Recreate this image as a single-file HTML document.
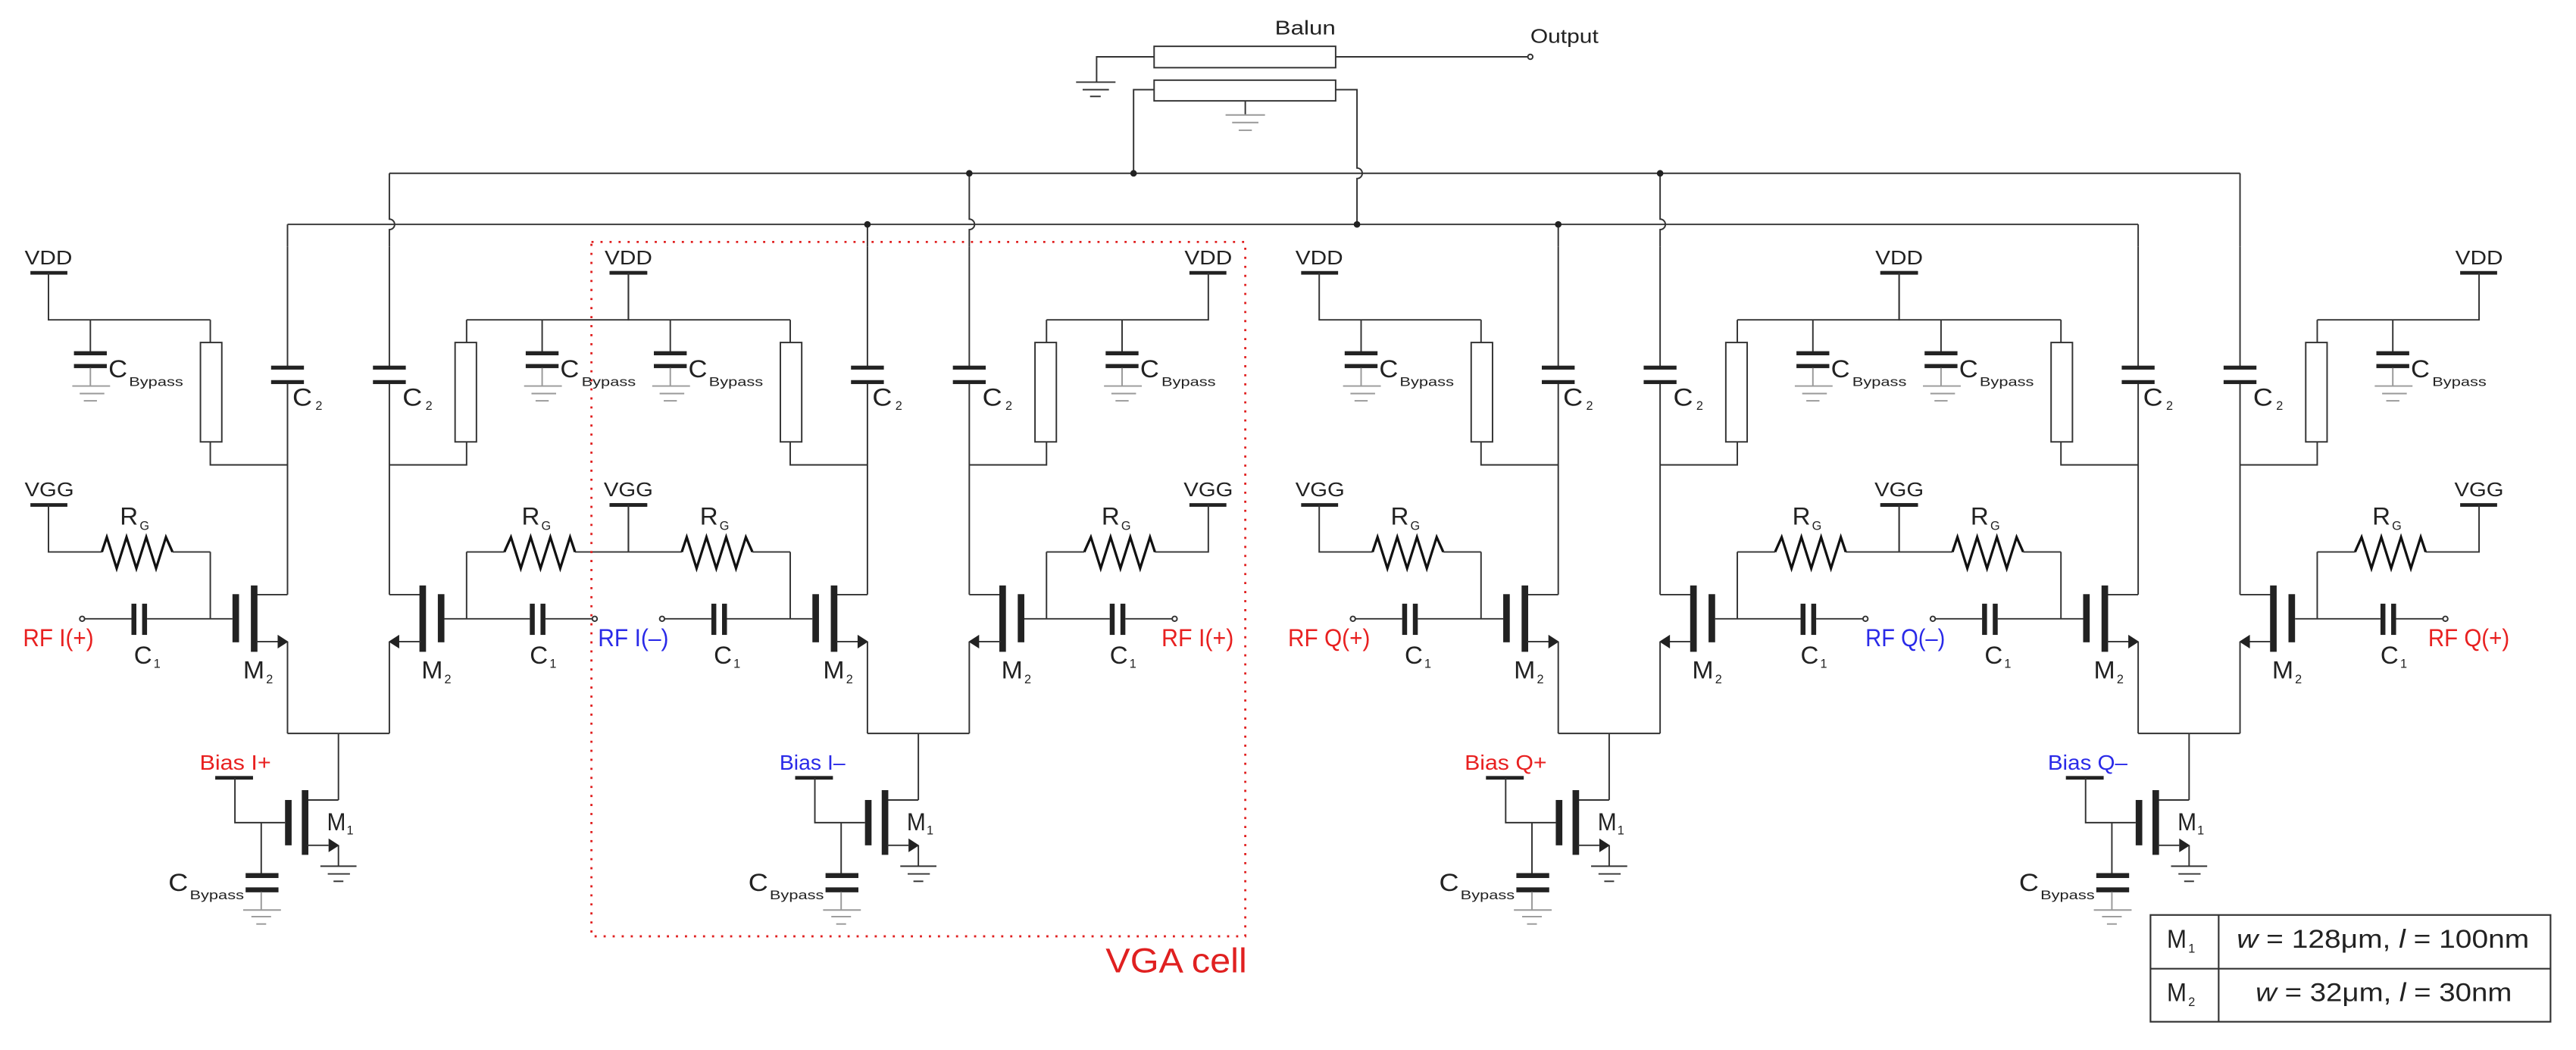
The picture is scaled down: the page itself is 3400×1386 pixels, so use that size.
<!DOCTYPE html>
<html><head><meta charset="utf-8">
<style>
html,body{margin:0;padding:0;background:#fff;}
svg{display:block;}
text{font-family:"Liberation Sans",sans-serif;fill:#222;}
</style></head>
<body>
<svg width="3400" height="1386" viewBox="0 0 1568 639.2" xmlns="http://www.w3.org/2000/svg">
<defs>
<g id="half" fill="none" stroke="#333" stroke-width="0.9">
  <!-- VDD -->
  <rect x="18.5" y="165" width="22.5" height="2.2" fill="#222" stroke="none"/>
  <polyline points="29.5,166 29.5,194.7 128,194.7"/>
  <!-- load resistor -->
  <line x1="128" y1="194.7" x2="128" y2="208.5"/>
  <rect x="122" y="208.5" width="13" height="60.5" fill="#fff"/>
  <polyline points="128,269 128,283 175,283"/>
  <!-- C2 -->
  <line x1="175" y1="150" x2="175" y2="223"/>
  <line x1="175" y1="233" x2="175" y2="362"/>
  <rect x="165" y="222.6" width="20" height="2.4" fill="#222" stroke="none"/>
  <rect x="165" y="231.4" width="20" height="2.4" fill="#222" stroke="none"/>
  <!-- M2 -->
  <line x1="156" y1="362" x2="175" y2="362"/>
  <rect x="141.5" y="361.7" width="4" height="29.3" fill="#222" stroke="none"/>
  <rect x="152.7" y="356.4" width="4" height="40.4" fill="#222" stroke="none"/>
  <line x1="156" y1="390.6" x2="170" y2="390.6"/>
  <polygon points="175.5,390.6 169,386.4 169,394.8" fill="#222" stroke="none"/>
  <line x1="175" y1="390.6" x2="175" y2="446.5"/>
  <line x1="175" y1="446.5" x2="206" y2="446.5"/>
  <!-- gate input -->
  <line x1="51.5" y1="376.7" x2="80" y2="376.7"/>
  <line x1="89.5" y1="376.7" x2="141.5" y2="376.7"/>
  <rect x="80" y="367.5" width="3" height="19" fill="#222" stroke="none"/>
  <rect x="86.5" y="367.5" width="3" height="19" fill="#222" stroke="none"/>
  <circle cx="50" cy="376.7" r="1.5" fill="#fff"/>
  <line x1="128" y1="336" x2="128" y2="376.7"/>
  <!-- VGG + RG -->
  <rect x="18.5" y="306.3" width="22.5" height="2.2" fill="#222" stroke="none"/>
  <polyline points="29.5,307.4 29.5,336 62,336"/>
  <polyline points="62,336 65,327 71,346 77,327 83,346 89,327 95,346 101,327 105,336" stroke="#111" stroke-width="1.5" stroke-linejoin="miter"/>
  <line x1="105" y1="336" x2="128" y2="336"/>
</g>
<g id="cb" fill="none" stroke="#333" stroke-width="0.9">
  <line x1="0" y1="194.7" x2="0" y2="214"/>
  <rect x="-10" y="213.8" width="20" height="2.5" fill="#222" stroke="none"/>
  <rect x="-10" y="221.6" width="20" height="2.5" fill="#222" stroke="none"/>
  <g stroke="#999">
  <line x1="0" y1="224" x2="0" y2="235"/>
  <line x1="-11" y1="235" x2="12" y2="235"/>
  <line x1="-6.5" y1="239.6" x2="8.5" y2="239.6"/>
  <line x1="-4" y1="244" x2="4" y2="244"/>
  </g>
</g>
<g id="cell" fill="none" stroke="#333" stroke-width="0.9">
  <use href="#half"/>
  <use href="#half" transform="translate(412,0) scale(-1,1)"/>
  <use href="#cb" transform="translate(55,0)"/>
  <use href="#cb" transform="translate(330,0)"/>
  <!-- tail -->
  <line x1="206" y1="446.5" x2="206" y2="487"/>
  <line x1="187" y1="487" x2="206" y2="487"/>
  <rect x="173.5" y="487" width="4" height="27.6" fill="#222" stroke="none"/>
  <rect x="183.7" y="481" width="4" height="39.4" fill="#222" stroke="none"/>
  <line x1="187" y1="514.6" x2="200" y2="514.6"/>
  <polygon points="206.5,514.6 200,510.4 200,518.8" fill="#222" stroke="none"/>
  <line x1="206" y1="514.6" x2="206" y2="527.3"/>
  <line x1="195" y1="527.3" x2="217" y2="527.3"/>
  <line x1="199.5" y1="532" x2="213" y2="532"/>
  <line x1="203" y1="536.5" x2="209" y2="536.5"/>
  <!-- bias -->
  <rect x="131" y="472.4" width="23" height="2.2" fill="#222" stroke="none"/>
  <polyline points="143,473.5 143,500.8 173.5,500.8"/>
  <line x1="159" y1="500.8" x2="159" y2="532"/>
  <rect x="149.5" y="531.5" width="20" height="3" fill="#222" stroke="none"/>
  <rect x="149.5" y="540.2" width="20" height="3" fill="#222" stroke="none"/>
  <g stroke="#999">
  <line x1="159" y1="543" x2="159" y2="554"/>
  <line x1="148" y1="554" x2="171" y2="554"/>
  <line x1="153" y1="558" x2="165" y2="558"/>
  <line x1="156" y1="562.5" x2="162" y2="562.5"/>
  </g>
</g>
</defs>

<!-- cells -->
<use href="#cell"/>
<use href="#cell" transform="translate(353,0)"/>
<use href="#cell" transform="translate(773.5,0)"/>
<use href="#cell" transform="translate(1126.5,0)"/>

<!-- buses -->
<g fill="none" stroke="#333" stroke-width="0.9">
  <line x1="237" y1="105.5" x2="1363.5" y2="105.5"/>
  <line x1="175" y1="136.6" x2="1301.5" y2="136.6"/>
  <line x1="175" y1="136.6" x2="175" y2="150"/>
  <line x1="528" y1="136.6" x2="528" y2="150"/>
  <line x1="948.5" y1="136.6" x2="948.5" y2="150"/>
  <line x1="1301.5" y1="136.6" x2="1301.5" y2="150"/>
  <path d="M237,105.5 V133.4 A3.2,3.2 0 0 1 237,139.8 V150"/>
  <path d="M590,105.5 V133.4 A3.2,3.2 0 0 1 590,139.8 V150"/>
  <path d="M1010.5,105.5 V133.4 A3.2,3.2 0 0 1 1010.5,139.8 V150"/>
  <line x1="1363.5" y1="105.5" x2="1363.5" y2="150"/>
  <!-- balun -->
  <rect x="702.5" y="28.2" width="110.5" height="13" fill="#fff"/>
  <rect x="702.5" y="48.8" width="110.5" height="12.6" fill="#fff"/>
  <polyline points="702.5,34.6 667.5,34.6 667.5,50"/>
  <line x1="655" y1="50" x2="679" y2="50"/>
  <line x1="659" y1="54.6" x2="675" y2="54.6"/>
  <line x1="663.5" y1="58.7" x2="670" y2="58.7"/>
  <polyline points="702.5,54.6 690,54.6 690,105.5"/>
  <line x1="758" y1="61.4" x2="758" y2="70"/>
  <g stroke="#999">
  <line x1="746" y1="70" x2="770" y2="70"/>
  <line x1="750" y1="74.6" x2="766" y2="74.6"/>
  <line x1="754" y1="79.3" x2="762" y2="79.3"/>
  </g>
  <line x1="813" y1="34.6" x2="930" y2="34.6"/>
  <circle cx="931.5" cy="34.6" r="1.5" fill="#fff"/>
  <path d="M813,54.6 H826 V102.3 A3.2,3.2 0 0 1 826,108.7 V136.6"/>
</g>
<g fill="#222">
  <circle cx="590" cy="105.5" r="2"/>
  <circle cx="690" cy="105.5" r="2"/>
  <circle cx="1010.5" cy="105.5" r="2"/>
  <circle cx="528" cy="136.6" r="2"/>
  <circle cx="826" cy="136.6" r="2"/>
  <circle cx="948.5" cy="136.6" r="2"/>
</g>

<!-- VGA cell box -->
<rect x="360" y="147.3" width="398" height="422.7" fill="none" stroke="#e02020" stroke-width="1.3" stroke-dasharray="1.3 4.2"/>
<text x="759" y="592" font-size="21" text-anchor="end" style="fill:#e02020" textLength="86" lengthAdjust="spacingAndGlyphs">VGA cell</text>

<!-- balun labels -->
<text x="776" y="21" font-size="12" textLength="37" lengthAdjust="spacingAndGlyphs">Balun</text>
<text x="931.5" y="26" font-size="12" textLength="41.5" lengthAdjust="spacingAndGlyphs">Output</text>

<!-- RF labels -->
<g font-size="15">
<text x="14" y="393.4" style="fill:#e82020" textLength="43" lengthAdjust="spacingAndGlyphs">RF I(+)</text>
<text x="364" y="393.4" style="fill:#2a2ae8" textLength="43" lengthAdjust="spacingAndGlyphs">RF I(–)</text>
<text x="707" y="393.4" style="fill:#e82020" textLength="44" lengthAdjust="spacingAndGlyphs">RF I(+)</text>
<text x="784" y="393.4" style="fill:#e82020" textLength="50" lengthAdjust="spacingAndGlyphs">RF Q(+)</text>
<text x="1135.5" y="393.4" style="fill:#2a2ae8" textLength="48.5" lengthAdjust="spacingAndGlyphs">RF Q(–)</text>
<text x="1478" y="393.4" style="fill:#e82020" textLength="49.5" lengthAdjust="spacingAndGlyphs">RF Q(+)</text>
</g>

<!-- Cell labels: I+ -->
<g transform="translate(0,0)">
<text x="15" y="161" font-size="12" textLength="29" lengthAdjust="spacingAndGlyphs">VDD</text>
<text x="15" y="302" font-size="12" textLength="30" lengthAdjust="spacingAndGlyphs">VGG</text>
<text x="368" y="161" font-size="12" textLength="29" lengthAdjust="spacingAndGlyphs">VDD</text>
<text x="367.5" y="302" font-size="12" textLength="30" lengthAdjust="spacingAndGlyphs">VGG</text>
<text x="121.5" y="468.5" font-size="13" style="fill:#e82020" textLength="43.5" lengthAdjust="spacingAndGlyphs">Bias I+</text>
</g>
<g transform="translate(353,0)">
<text x="368" y="161" font-size="12" textLength="29" lengthAdjust="spacingAndGlyphs">VDD</text>
<text x="367.5" y="302" font-size="12" textLength="30" lengthAdjust="spacingAndGlyphs">VGG</text>
<text x="121.5" y="468.5" font-size="13" style="fill:#2a2ae8" textLength="40" lengthAdjust="spacingAndGlyphs">Bias I–</text>
</g>
<g transform="translate(773.5,0)">
<text x="15" y="161" font-size="12" textLength="29" lengthAdjust="spacingAndGlyphs">VDD</text>
<text x="15" y="302" font-size="12" textLength="30" lengthAdjust="spacingAndGlyphs">VGG</text>
<text x="368" y="161" font-size="12" textLength="29" lengthAdjust="spacingAndGlyphs">VDD</text>
<text x="367.5" y="302" font-size="12" textLength="30" lengthAdjust="spacingAndGlyphs">VGG</text>
<text x="118" y="468.5" font-size="13" style="fill:#e82020" textLength="50" lengthAdjust="spacingAndGlyphs">Bias Q+</text>
</g>
<g transform="translate(1126.5,0)">
<text x="368" y="161" font-size="12" textLength="29" lengthAdjust="spacingAndGlyphs">VDD</text>
<text x="367.5" y="302" font-size="12" textLength="30" lengthAdjust="spacingAndGlyphs">VGG</text>
<text x="120" y="468.5" font-size="13" style="fill:#2a2ae8" textLength="48.5" lengthAdjust="spacingAndGlyphs">Bias Q–</text>
</g>

<!-- Common per-cell component labels -->
<g id="labI">
<g font-size="15">
<text x="66" y="229.7" textLength="11.5" lengthAdjust="spacingAndGlyphs">C</text>
<text x="341" y="229.7" textLength="11.5" lengthAdjust="spacingAndGlyphs">C</text>
<text x="178" y="247" textLength="12" lengthAdjust="spacingAndGlyphs">C</text>
<text x="245" y="247" textLength="12" lengthAdjust="spacingAndGlyphs">C</text>
<text x="73" y="319.4" textLength="11" lengthAdjust="spacingAndGlyphs">R</text>
<text x="317.5" y="319.4" textLength="11" lengthAdjust="spacingAndGlyphs">R</text>
<text x="81.5" y="404" textLength="11" lengthAdjust="spacingAndGlyphs">C</text>
<text x="322.5" y="404" textLength="11" lengthAdjust="spacingAndGlyphs">C</text>
<text x="148" y="413" textLength="13" lengthAdjust="spacingAndGlyphs">M</text>
<text x="256.5" y="413" textLength="13" lengthAdjust="spacingAndGlyphs">M</text>
<text x="199" y="505.4" textLength="11.5" lengthAdjust="spacingAndGlyphs">M</text>
<text x="102.5" y="542.4" textLength="12" lengthAdjust="spacingAndGlyphs">C</text>
</g>
<g font-size="7.5">
<text x="78.5" y="235" textLength="33" lengthAdjust="spacingAndGlyphs">Bypass</text>
<text x="354" y="235" textLength="33" lengthAdjust="spacingAndGlyphs">Bypass</text>
<text x="192" y="249.5">2</text>
<text x="259" y="249.5">2</text>
<text x="85" y="322.5">G</text>
<text x="329.5" y="322.5">G</text>
<text x="93.5" y="406.5">1</text>
<text x="334.5" y="406.5">1</text>
<text x="162" y="416">2</text>
<text x="270.5" y="416">2</text>
<text x="211" y="508">1</text>
<text x="115.5" y="547.5" textLength="33" lengthAdjust="spacingAndGlyphs">Bypass</text>
</g>
</g>
<g transform="translate(353,0)">
<g font-size="15">
<text x="66" y="229.7" textLength="11.5" lengthAdjust="spacingAndGlyphs">C</text>
<text x="341" y="229.7" textLength="11.5" lengthAdjust="spacingAndGlyphs">C</text>
<text x="178" y="247" textLength="12" lengthAdjust="spacingAndGlyphs">C</text>
<text x="245" y="247" textLength="12" lengthAdjust="spacingAndGlyphs">C</text>
<text x="73" y="319.4" textLength="11" lengthAdjust="spacingAndGlyphs">R</text>
<text x="317.5" y="319.4" textLength="11" lengthAdjust="spacingAndGlyphs">R</text>
<text x="81.5" y="404" textLength="11" lengthAdjust="spacingAndGlyphs">C</text>
<text x="322.5" y="404" textLength="11" lengthAdjust="spacingAndGlyphs">C</text>
<text x="148" y="413" textLength="13" lengthAdjust="spacingAndGlyphs">M</text>
<text x="256.5" y="413" textLength="13" lengthAdjust="spacingAndGlyphs">M</text>
<text x="199" y="505.4" textLength="11.5" lengthAdjust="spacingAndGlyphs">M</text>
<text x="102.5" y="542.4" textLength="12" lengthAdjust="spacingAndGlyphs">C</text>
</g>
<g font-size="7.5">
<text x="78.5" y="235" textLength="33" lengthAdjust="spacingAndGlyphs">Bypass</text>
<text x="354" y="235" textLength="33" lengthAdjust="spacingAndGlyphs">Bypass</text>
<text x="192" y="249.5">2</text>
<text x="259" y="249.5">2</text>
<text x="85" y="322.5">G</text>
<text x="329.5" y="322.5">G</text>
<text x="93.5" y="406.5">1</text>
<text x="334.5" y="406.5">1</text>
<text x="162" y="416">2</text>
<text x="270.5" y="416">2</text>
<text x="211" y="508">1</text>
<text x="115.5" y="547.5" textLength="33" lengthAdjust="spacingAndGlyphs">Bypass</text>
</g>
</g>
<g transform="translate(773.5,0)">
<g font-size="15">
<text x="66" y="229.7" textLength="11.5" lengthAdjust="spacingAndGlyphs">C</text>
<text x="341" y="229.7" textLength="11.5" lengthAdjust="spacingAndGlyphs">C</text>
<text x="178" y="247" textLength="12" lengthAdjust="spacingAndGlyphs">C</text>
<text x="245" y="247" textLength="12" lengthAdjust="spacingAndGlyphs">C</text>
<text x="73" y="319.4" textLength="11" lengthAdjust="spacingAndGlyphs">R</text>
<text x="317.5" y="319.4" textLength="11" lengthAdjust="spacingAndGlyphs">R</text>
<text x="81.5" y="404" textLength="11" lengthAdjust="spacingAndGlyphs">C</text>
<text x="322.5" y="404" textLength="11" lengthAdjust="spacingAndGlyphs">C</text>
<text x="148" y="413" textLength="13" lengthAdjust="spacingAndGlyphs">M</text>
<text x="256.5" y="413" textLength="13" lengthAdjust="spacingAndGlyphs">M</text>
<text x="199" y="505.4" textLength="11.5" lengthAdjust="spacingAndGlyphs">M</text>
<text x="102.5" y="542.4" textLength="12" lengthAdjust="spacingAndGlyphs">C</text>
</g>
<g font-size="7.5">
<text x="78.5" y="235" textLength="33" lengthAdjust="spacingAndGlyphs">Bypass</text>
<text x="354" y="235" textLength="33" lengthAdjust="spacingAndGlyphs">Bypass</text>
<text x="192" y="249.5">2</text>
<text x="259" y="249.5">2</text>
<text x="85" y="322.5">G</text>
<text x="329.5" y="322.5">G</text>
<text x="93.5" y="406.5">1</text>
<text x="334.5" y="406.5">1</text>
<text x="162" y="416">2</text>
<text x="270.5" y="416">2</text>
<text x="211" y="508">1</text>
<text x="115.5" y="547.5" textLength="33" lengthAdjust="spacingAndGlyphs">Bypass</text>
</g>
</g>
<g transform="translate(1126.5,0)">
<g font-size="15">
<text x="66" y="229.7" textLength="11.5" lengthAdjust="spacingAndGlyphs">C</text>
<text x="341" y="229.7" textLength="11.5" lengthAdjust="spacingAndGlyphs">C</text>
<text x="178" y="247" textLength="12" lengthAdjust="spacingAndGlyphs">C</text>
<text x="245" y="247" textLength="12" lengthAdjust="spacingAndGlyphs">C</text>
<text x="73" y="319.4" textLength="11" lengthAdjust="spacingAndGlyphs">R</text>
<text x="317.5" y="319.4" textLength="11" lengthAdjust="spacingAndGlyphs">R</text>
<text x="81.5" y="404" textLength="11" lengthAdjust="spacingAndGlyphs">C</text>
<text x="322.5" y="404" textLength="11" lengthAdjust="spacingAndGlyphs">C</text>
<text x="148" y="413" textLength="13" lengthAdjust="spacingAndGlyphs">M</text>
<text x="256.5" y="413" textLength="13" lengthAdjust="spacingAndGlyphs">M</text>
<text x="199" y="505.4" textLength="11.5" lengthAdjust="spacingAndGlyphs">M</text>
<text x="102.5" y="542.4" textLength="12" lengthAdjust="spacingAndGlyphs">C</text>
</g>
<g font-size="7.5">
<text x="78.5" y="235" textLength="33" lengthAdjust="spacingAndGlyphs">Bypass</text>
<text x="354" y="235" textLength="33" lengthAdjust="spacingAndGlyphs">Bypass</text>
<text x="192" y="249.5">2</text>
<text x="259" y="249.5">2</text>
<text x="85" y="322.5">G</text>
<text x="329.5" y="322.5">G</text>
<text x="93.5" y="406.5">1</text>
<text x="334.5" y="406.5">1</text>
<text x="162" y="416">2</text>
<text x="270.5" y="416">2</text>
<text x="211" y="508">1</text>
<text x="115.5" y="547.5" textLength="33" lengthAdjust="spacingAndGlyphs">Bypass</text>
</g>
</g>

<!-- table -->
<g fill="none" stroke="#333" stroke-width="1">
<rect x="1309" y="557" width="243.5" height="65"/>
<line x1="1309" y1="589.7" x2="1552.5" y2="589.7"/>
<line x1="1350.5" y1="557" x2="1350.5" y2="622"/>
</g>
<text x="1319" y="577" font-size="16" textLength="12" lengthAdjust="spacingAndGlyphs">M</text>
<text x="1332" y="580" font-size="7.5">1</text>
<text x="1319" y="609.4" font-size="16" textLength="12" lengthAdjust="spacingAndGlyphs">M</text>
<text x="1332" y="612.4" font-size="7.5">2</text>
<text x="1361.5" y="577" font-size="16" textLength="178" lengthAdjust="spacingAndGlyphs"><tspan font-style="italic">w</tspan> = 128μm, <tspan font-style="italic">l</tspan> = 100nm</text>
<text x="1373" y="609.4" font-size="16" textLength="156" lengthAdjust="spacingAndGlyphs"><tspan font-style="italic">w</tspan> = 32μm, <tspan font-style="italic">l</tspan> = 30nm</text>
</svg>
</body></html>
